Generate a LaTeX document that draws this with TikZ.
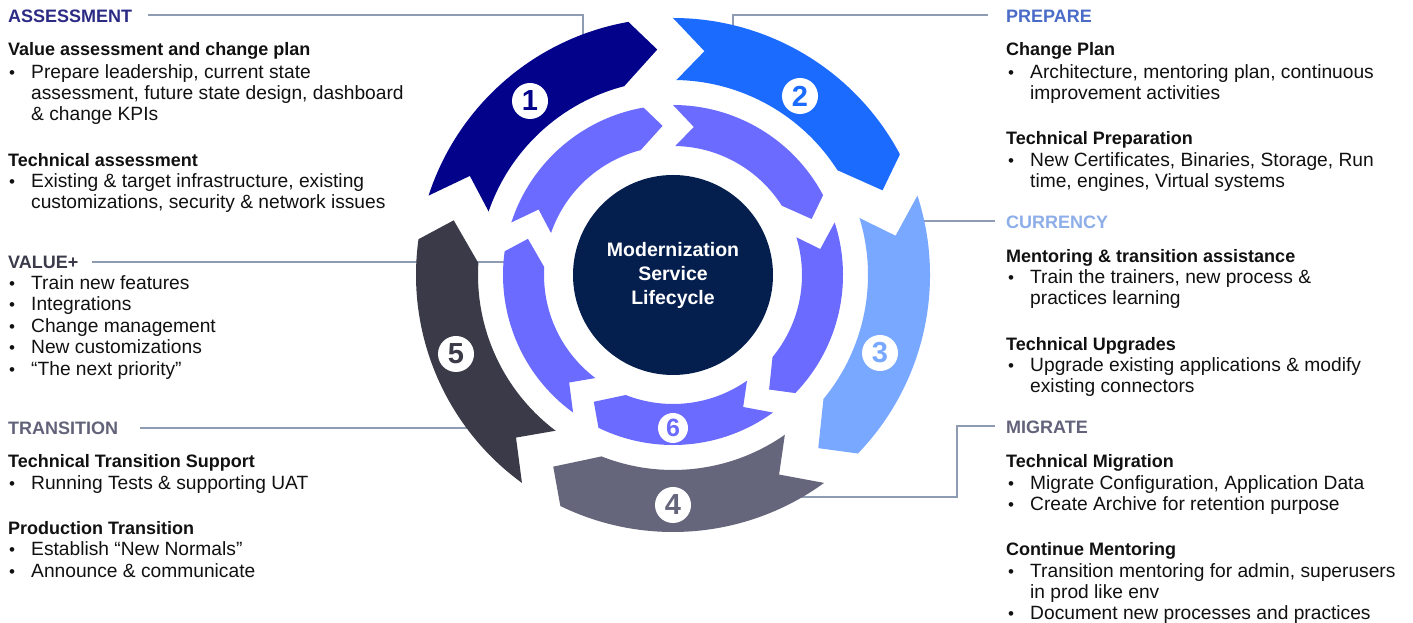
\documentclass[tikz,border=0pt]{standalone}
\usepackage{fontspec}
\setmainfont{Liberation Sans}
\definecolor{cA}{HTML}{02028A}
\definecolor{cB}{HTML}{1C6BFF}
\definecolor{cC}{HTML}{78A8FF}
\definecolor{cD}{HTML}{65667C}
\definecolor{cE}{HTML}{3A3A48}
\definecolor{cIn}{HTML}{6B6BFF}
\definecolor{cCtr}{HTML}{041E4E}
\definecolor{hA}{HTML}{2B2B85}
\definecolor{hB}{HTML}{4A6CC8}
\definecolor{hC}{HTML}{8DAEE8}
\definecolor{hD}{HTML}{3B3B4B}
\definecolor{hE}{HTML}{62627A}
\definecolor{leadc}{HTML}{8E9CB3}
\definecolor{txt}{HTML}{111111}
\newcommand{\tline}[5]{\node[#1] (#2) at (#3,{615.3-#4}) {#5};}
\newcommand{\bline}[5]{\node[bul] (#1b) at (#2,{615.3-#4}) {•};\node[body] (#1) at (#3,{615.3-#4}) {#5};}
\newcommand{\wseg}[4]{\fill[#4] (#1:#2) arc[start angle=#1, end angle={#1-62}, radius=#2] -- ({#1-68}:{(#2+#3)/2}) -- ({#1-57.5}:#3) arc[start angle={#1-57.5}, end angle={#1-1}, radius=#3] -- ({#1-8}:{(#2+#3)/2}) -- cycle;}
\tikzset{
  hd/.style={anchor=base west, inner sep=0pt, font=\fontsize{18}{20}\selectfont\bfseries},
  sub/.style={anchor=base west, inner sep=0pt, text=txt, font=\fontsize{18}{20}\selectfont\bfseries},
  body/.style={anchor=base west, inner sep=0pt, text=txt, font=\fontsize{19.2}{20}\selectfont},
  bul/.style={anchor=base west, inner sep=0pt, text=txt, font=\fontsize{17}{20}\selectfont},
  lead/.style={draw=leadc, line width=1.2pt},
  numc/.style={circle, fill=white, minimum size=36pt, inner sep=0pt, font=\fontsize{29}{29}\selectfont\bfseries},
}
\begin{document}
\begin{tikzpicture}[x=1pt,y=1pt]
\useasboundingbox (0,0) rectangle (1413,623);
\fill[white] (0,0) rectangle (1413,623);
% leader lines (behind wheel)
\coordinate (lA0) at (148,608); \coordinate (lA1) at (583,578);
\coordinate (lB0) at (988,608); \coordinate (lB1) at (733,583);
\coordinate (lC0) at (995,402); \coordinate (lC1) at (915,402);
\coordinate (lD0) at (995,197); \coordinate (lD1) at (790,126);
\coordinate (lE0) at (92,361);  \coordinate (lE1) at (510,361);
\coordinate (lF0) at (140,195); \coordinate (lF1) at (548,195);
\draw[lead] (lA0) -| (lA1);
\draw[lead] (lB0) -| (lB1);
\draw[lead] (lC0) -- (lC1);
\draw[lead] (lD0) -- (957,197) |- (lD1);
\draw[lead] (lE0) -- (lE1);
\draw[lead] (lF0) -- (lF1);
% wheel
\begin{scope}[shift={(673,348)}]
\wseg{162}{257}{195}{cA}
\wseg{90}{257}{195}{cB}
\wseg{18}{257}{195}{cC}
\wseg{-54}{257}{195}{cD}
\wseg{-126}{257}{195}{cE}
\wseg{162}{170}{129}{cIn}
\wseg{90}{170}{129}{cIn}
\wseg{18}{170}{129}{cIn}
\wseg{-54}{170}{129}{cIn}
\wseg{-126}{170}{129}{cIn}
\node[circle, fill=cCtr, minimum size=200pt, inner sep=0pt, text=white, align=center, font=\fontsize{19.5}{24}\selectfont\bfseries] (ctr) at (0,0) {Modernization\\Service\\Lifecycle};
\end{scope}
\node[numc, text=cA] (n1) at (530,522) {1};
\node[numc, text=cB] (n2) at (800,527) {2};
\node[numc, text=cC] (n3) at (880,270) {3};
\node[numc, text=cD] (n4) at (673,118) {4};
\node[numc, text=cE] (n5) at (456,269) {5};
\node[numc, text=cIn, minimum size=30pt, font=\fontsize{25}{25}\selectfont\bfseries] (n6) at (673,195) {6};
% left column
\tline{hd,text=hA}{tA}{8}{15}{ASSESSMENT}
\tline{sub}{tA1}{8}{48}{Value assessment and change plan}
\bline{a1}{9}{31}{71}{Prepare leadership, current state}
\tline{body}{a1x}{31}{92}{assessment, future state design, dashboard}
\tline{body}{a1y}{31}{113}{\& change KPIs}
\tline{sub}{tA2}{8}{159}{Technical assessment}
\bline{a2}{9}{31}{180}{Existing \& target infrastructure, existing}
\tline{body}{a2x}{31}{201}{customizations, security \& network issues}
\tline{hd,text=hD}{tE}{8}{261}{VALUE+}
\bline{e1}{9}{31}{282}{Train new features}
\bline{e2}{9}{31}{303}{Integrations}
\bline{e3}{9}{31}{325}{Change management}
\bline{e4}{9}{31}{346}{New customizations}
\bline{e5}{9}{31}{368}{“The next priority”}
\tline{hd,text=hE}{tF}{8}{427}{TRANSITION}
\tline{sub}{tF1}{8}{460}{Technical Transition Support}
\bline{f1}{9}{31}{482}{Running Tests \& supporting UAT}
\tline{sub}{tF2}{8}{527}{Production Transition}
\bline{f2}{9}{31}{548}{Establish “New Normals”}
\bline{f3}{9}{31}{570}{Announce \& communicate}
% right column
\tline{hd,text=hB}{tB}{1006}{15}{PREPARE}
\tline{sub}{tB1}{1006}{48}{Change Plan}
\bline{b1}{1008}{1030}{71}{Architecture, mentoring plan, continuous}
\tline{body}{b1x}{1030}{92}{improvement activities}
\tline{sub}{tB2}{1006}{137}{Technical Preparation}
\bline{b2}{1008}{1030}{159}{New Certificates, Binaries, Storage, Run}
\tline{body}{b2x}{1030}{180}{time, engines, Virtual systems}
\tline{hd,text=hC}{tC}{1006}{221}{CURRENCY}
\tline{sub}{tC1}{1006}{255}{Mentoring \& transition assistance}
\bline{c1}{1008}{1030}{276}{Train the trainers, new process \&}
\tline{body}{c1x}{1030}{297}{practices learning}
\tline{sub}{tC2}{1006}{343}{Technical Upgrades}
\bline{c2}{1008}{1030}{364}{Upgrade existing applications \& modify}
\tline{body}{c2x}{1030}{385}{existing connectors}
\tline{hd,text=hE}{tD}{1006}{426}{MIGRATE}
\tline{sub}{tD1}{1006}{460}{Technical Migration}
\bline{d1}{1008}{1030}{482}{Migrate Configuration, Application Data}
\bline{d2}{1008}{1030}{503}{Create Archive for retention purpose}
\tline{sub}{tD2}{1006}{548}{Continue Mentoring}
\bline{d3}{1008}{1030}{570}{Transition mentoring for admin, superusers}
\tline{body}{d3x}{1030}{591}{in prod like env}
\bline{d4}{1008}{1030}{612}{Document new processes and practices}
\end{tikzpicture}
\end{document}
